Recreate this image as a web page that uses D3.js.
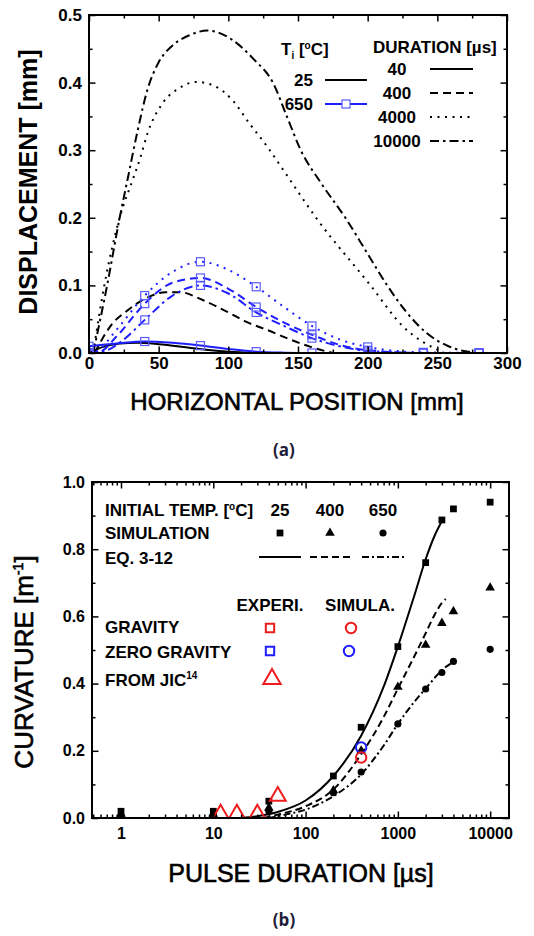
<!DOCTYPE html>
<html>
<head>
<meta charset="utf-8">
<script src="https://cdn.jsdelivr.net/npm/d3@7"></script>
<style>
  body { margin: 0; background: #fff; }
  text { font-family: "Liberation Sans", Arial, sans-serif; }
</style>
</head>
<body>
<script>
// ---------- (a) displacement vs horizontal position ----------
// black = Ti 25 C, blue = Ti 650 C ; [position mm, displacement mm]
const black40 = [[0,0],[10,0.009],[22,0.014],[35,0.015],[50,0.013],[75,0.007],[100,0.002],[125,0]];
const black400 = [[4,0],[17,0.044],[27,0.062],[40,0.08],[55,0.09],[65,0.09],[82,0.078],[101,0.059],[113,0.046],[128,0.034],[142,0.022],[159,0.009],[175,0]];
const black4000 = [[3,0],[11,0.1],[22,0.2],[32,0.26],[37,0.29],[42,0.325],[53,0.37],[65,0.392],[77,0.401],[90,0.395],[103,0.374],[115,0.34],[128,0.305],[141,0.266],[163,0.2],[202,0.1],[225,0.04],[255,0]];
const black10000 = [[3,0],[13,0.1],[22,0.2],[28,0.26],[35,0.33],[42,0.39],[50,0.43],[60,0.455],[72,0.47],[85,0.477],[103,0.463],[118,0.435],[132,0.4],[142,0.35],[152,0.3],[167,0.25],[184,0.2],[199,0.15],[214,0.1],[228,0.06],[242,0.03],[258,0.01],[278,0]];
const blue40 = [[0,0.01],[20,0.014],[40,0.017],[60,0.015],[80,0.011],[100,0.006],[120,0.002],[140,0.0005],[160,0],[200,0],[240,0],[280,0]];
const blue400 = [[0,0],[8,0.002],[20,0.025],[40,0.073],[60,0.104],[80,0.111],[100,0.095],[120,0.068],[140,0.045],[160,0.027],[180,0.012],[200,0.004],[240,0],[280,0]];
const blue4000 = [[0,0],[5,0.002],[20,0.035],[40,0.085],[60,0.12],[80,0.135],[100,0.123],[120,0.098],[140,0.068],[160,0.04],[180,0.02],[200,0.009],[220,0.003],[240,0.001],[280,0]];
const blue10000 = [[0,0],[10,0.002],[25,0.02],[40,0.049],[60,0.085],[80,0.1],[100,0.088],[120,0.06],[140,0.04],[160,0.022],[180,0.01],[200,0.003],[240,0],[280,0]];
const durationLabels = ["40", "400", "4000", "10000"];
const tempLabelsA = ["25", "650"];
const xTicksA = [0, 50, 100, 150, 200, 250, 300];
const xMinorA = [25, 75, 125, 175, 225, 275];
const yTicksA = [0, 0.1, 0.2, 0.3, 0.4, 0.5];
const yMinorA = [0.05, 0.15, 0.25, 0.35, 0.45];

// ---------- (b) curvature vs pulse duration ----------
const simDur = [1, 10, 40, 200, 400, 1000, 2000, 3000, 4000, 10000];
const sim25 = [0.02, 0.02, 0.05, 0.125, 0.27, 0.51, 0.76, 0.887, 0.92, 0.94];
const sim400 = [0.012, 0.012, 0.03, 0.082, 0.2, 0.39, 0.515, 0.58, 0.615, 0.685];
const sim650 = [0.006, 0.006, 0.02, 0.075, 0.137, 0.28, 0.384, 0.433, 0.466, 0.502];
const eq25Dur = [20, 30, 50, 100, 200, 400, 700, 1000, 1500, 2000, 2500, 3000];
const eq25 = [0.0, 0.005, 0.018, 0.052, 0.125, 0.245, 0.39, 0.51, 0.66, 0.77, 0.84, 0.883];
const eq400Dur = [35, 50, 100, 200, 400, 700, 1000, 1500, 2000, 2500, 3000, 3300];
const eq400 = [0.0, 0.01, 0.035, 0.085, 0.19, 0.3, 0.385, 0.48, 0.55, 0.605, 0.64, 0.652];
const eq650Dur = [40, 60, 100, 200, 400, 700, 1000, 1500, 2000, 3000, 4000];
const eq650 = [0.0, 0.01, 0.025, 0.065, 0.13, 0.215, 0.28, 0.345, 0.385, 0.44, 0.465];
const gravSimDur = [400], gravSim = [0.18];
const zeroSimDur = [400], zeroSim = [0.21];
const jicDur = [12, 18, 30, 50], jicCurv = [0.012, 0.012, 0.012, 0.065];
const initTemps = ["25", "400", "650"];
const xTicksB = [1, 10, 100, 1000, 10000];
const yTicksB = [0, 0.2, 0.4, 0.6, 0.8, 1.0];
const yMinorB = [0.1, 0.3, 0.5, 0.7, 0.9];

const BLUE = "#1e1eff", RED = "#ee1c1c", SQBLUE = "#5a5aff";

const svg = d3.select("body").append("svg").attr("width", 534).attr("height", 936);

function axisFrame(x, y, o) {
  const [xl, xr] = x.range(), [yb, yt] = y.range();
  const g = svg.append("g");
  const sides = [
    { ax: d3.axisBottom, sc: x, tr: `translate(0,${yb})`, lab: true, maj: o.xMajor, min: o.xMinor, fmt: o.xFmt, pad: o.xPad },
    { ax: d3.axisTop, sc: x, tr: `translate(0,${yt})`, lab: false, maj: o.xMajor, min: o.xMinor },
    { ax: d3.axisLeft, sc: y, tr: `translate(${xl},0)`, lab: true, maj: o.yMajor, min: o.yMinor, fmt: o.yFmt, pad: o.yPad },
    { ax: d3.axisRight, sc: y, tr: `translate(${xr},0)`, lab: false, maj: o.yMajor, min: o.yMinor }
  ];
  sides.forEach(s => {
    const a = g.append("g").attr("transform", s.tr)
      .call(s.ax(s.sc).tickValues(s.maj).tickSize(-6.5).tickPadding(s.pad || 0).tickFormat(s.lab ? s.fmt : ""));
    const b = g.append("g").attr("transform", s.tr)
      .call(s.ax(s.sc).tickValues(s.min).tickSize(-3.5).tickFormat(""));
    [a, b].forEach(k => {
      k.select(".domain").remove();
      k.attr("font-family", null).attr("font-size", null);
      k.selectAll(".tick line").attr("stroke-width", 1.5);
    });
    a.selectAll("text").attr("font-size", s.sc === x ? o.xFs : o.yFs).attr("font-weight", "bold").attr("fill", "#000");
  });
  g.append("rect").attr("x", xl).attr("y", yt).attr("width", xr - xl).attr("height", yb - yt)
    .attr("fill", "none").attr("stroke", "#000").attr("stroke-width", 2);
}

function clip(id, x, y) {
  svg.append("clipPath").attr("id", id).append("rect")
    .attr("x", x.range()[0]).attr("y", y.range()[1])
    .attr("width", x.range()[1] - x.range()[0]).attr("height", y.range()[0] - y.range()[1]);
}

// heavier axis titles
function title(t) { return t.attr("stroke", "#000").attr("stroke-width", 0.6); }

// ================= chart (a) =================
const xA = d3.scaleLinear().domain([0, 300]).range([89, 507]);
const yA = d3.scaleLinear().domain([0, 0.5]).range([353, 15]);
clip("clipA", xA, yA);

const dashA = { solid: null, dash: "8,5", dot: "2,5.5", dashdot: "9,4,2.5,4" };
const seriesA = [
  { pts: black40, c: "#000", d: dashA.solid },
  { pts: black400, c: "#000", d: dashA.dash },
  { pts: black4000, c: "#000", d: dashA.dot },
  { pts: black10000, c: "#000", d: dashA.dashdot },
  { pts: blue40, c: BLUE, d: dashA.solid, sq: true },
  { pts: blue400, c: BLUE, d: dashA.dash, sq: true },
  { pts: blue4000, c: BLUE, d: dashA.dot, sq: true },
  { pts: blue10000, c: BLUE, d: dashA.dashdot, sq: true }
];
const lineA = d3.line().x(d => xA(d[0])).y(d => yA(d[1])).curve(d3.curveMonotoneX);
const gA = svg.append("g").attr("clip-path", "url(#clipA)");
seriesA.forEach(s => {
  gA.append("path").attr("d", lineA(s.pts)).attr("fill", "none")
    .attr("stroke", s.c).attr("stroke-width", 2).attr("stroke-dasharray", s.d);
});
seriesA.filter(s => s.sq).forEach(s => {
  gA.selectAll(null).data(s.pts.filter(p => p[0] % 40 === 0)).join("rect")
    .attr("x", d => xA(d[0]) - 4).attr("y", d => yA(d[1]) - 4)
    .attr("width", 8).attr("height", 8)
    .attr("fill", "none").attr("stroke", SQBLUE).attr("stroke-width", 1.2);
});

axisFrame(xA, yA, {
  xMajor: xTicksA, xMinor: xMinorA, xFmt: d3.format("d"), xPad: 4, xFs: 17,
  yMajor: yTicksA, yMinor: yMinorA, yFmt: d3.format(".1f"), yPad: 7, yFs: 17
});

// legend (a)
const legA = svg.append("g").attr("font-size", 17).attr("font-weight", "bold");
const ti = legA.append("text").attr("x", 281).attr("y", 55);
ti.append("tspan").text("T");
ti.append("tspan").attr("font-size", 10).attr("dy", 4).text("i");
ti.append("tspan").attr("dy", -4).text(" [");
ti.append("tspan").attr("font-size", 10).attr("dy", -6).text("o");
ti.append("tspan").attr("dy", 6).text("C]");
legA.selectAll(null).data(tempLabelsA).join("text")
  .attr("x", 313).attr("y", (d, i) => 86 + i * 24).attr("text-anchor", "end").text(d => d);
legA.append("line").attr("x1", 325).attr("x2", 367).attr("y1", 80).attr("y2", 80).attr("stroke", "#000").attr("stroke-width", 2);
legA.append("line").attr("x1", 325).attr("x2", 367).attr("y1", 104).attr("y2", 104).attr("stroke", BLUE).attr("stroke-width", 2);
legA.append("rect").attr("x", 342).attr("y", 100).attr("width", 8).attr("height", 8)
  .attr("fill", "#fff").attr("stroke", SQBLUE).attr("stroke-width", 1.2);
legA.append("text").attr("x", 373).attr("y", 53).text("DURATION [\u00b5s]");
const durDash = [dashA.solid, dashA.dash, dashA.dot, dashA.dashdot];
durationLabels.forEach((lab, i) => {
  const yy = 69 + i * 24;
  legA.append("text").attr("x", 397).attr("y", yy + 6).attr("text-anchor", "middle").text(lab);
  legA.append("line").attr("x1", 430).attr("x2", 473).attr("y1", yy).attr("y2", yy)
    .attr("stroke", "#000").attr("stroke-width", 2).attr("stroke-dasharray", durDash[i]);
});

title(svg.append("text").attr("x", 297).attr("y", 410).attr("text-anchor", "middle")
  .attr("font-size", 24).text("HORIZONTAL POSITION [mm]"));
svg.append("text").attr("transform", "translate(37,182) rotate(-90)").attr("text-anchor", "middle")
  .attr("font-size", 25).attr("font-weight", "bold").text("DISPLACEMENT [mm]");
svg.append("text").attr("x", 284).attr("y", 456).attr("text-anchor", "middle")
  .attr("font-size", 17).attr("font-weight", "bold").attr("fill", "#1d1d3a")
  .style("font-family", "'Open Sans', sans-serif").text("(a)");

// ================= chart (b) =================
const xB = d3.scaleLog().domain([0.485, 16000]).range([92, 509]);
const yB = d3.scaleLinear().domain([0, 1]).range([818, 482]);
clip("clipB", xB, yB);
const gB = svg.append("g").attr("clip-path", "url(#clipB)");

const lineB = d3.line().x(d => xB(d[0])).y(d => yB(d[1])).curve(d3.curveMonotoneX);
const eqSeries = [
  { x: eq25Dur, y: eq25, d: null },
  { x: eq400Dur, y: eq400, d: "7,4" },
  { x: eq650Dur, y: eq650, d: "7,3,2,3" }
];
eqSeries.forEach(s => {
  gB.append("path").attr("d", lineB(d3.zip(s.x, s.y))).attr("fill", "none")
    .attr("stroke", "#000").attr("stroke-width", 2).attr("stroke-dasharray", s.d);
});

const sym = (type, size) => d3.symbol().type(type).size(size)();
function markers(g, xs, ys, type, size, fill, stroke, sw) {
  g.selectAll(null).data(d3.zip(xs, ys)).join("path")
    .attr("transform", d => `translate(${xB(d[0])},${yB(d[1])})`)
    .attr("d", sym(type, size))
    .attr("fill", fill).attr("stroke", stroke).attr("stroke-width", sw);
}
markers(gB, simDur, sim25, d3.symbolSquare, 46, "#000", "none", 0);
markers(gB, simDur, sim400, d3.symbolTriangle, 40, "#000", "none", 0);
markers(gB, simDur, sim650, d3.symbolCircle, 40, "#000", "none", 0);
markers(gB, zeroSimDur, zeroSim, d3.symbolCircle, 85, "none", BLUE, 2);
markers(gB, gravSimDur, gravSim, d3.symbolCircle, 85, "none", RED, 2);
markers(gB, jicDur, jicCurv, d3.symbolTriangle, 110, "none", RED, 2);

axisFrame(xB, yB, {
  xMajor: xTicksB, xMinor: xB.ticks().filter(t => !xTicksB.includes(t)), xFmt: d3.format("d"), xPad: 10, xFs: 16,
  yMajor: yTicksB, yMinor: yMinorB, yFmt: d3.format(".1f"), yPad: 7, yFs: 16
});

// legend (b)
const legB = svg.append("g").attr("font-size", 17).attr("font-weight", "bold");
const it = legB.append("text").attr("x", 105).attr("y", 516);
it.append("tspan").text("INITIAL TEMP. [");
it.append("tspan").attr("font-size", 10).attr("dy", -6).text("o");
it.append("tspan").attr("dy", 6).text("C]");
const colB = [280, 330, 383];
legB.selectAll(null).data(initTemps).join("text")
  .attr("x", (d, i) => colB[i]).attr("y", 516).attr("text-anchor", "middle").text(d => d);
legB.append("text").attr("x", 105).attr("y", 539).text("SIMULATION");
[d3.symbolSquare, d3.symbolTriangle, d3.symbolCircle].forEach((t, i) => {
  legB.append("path").attr("transform", `translate(${colB[i]},533)`).attr("d", sym(t, i === 0 ? 46 : 40)).attr("fill", "#000");
});
legB.append("text").attr("x", 105).attr("y", 564).text("EQ. 3-12");
[[259, 301, null], [310, 350, "7,4"], [362, 404, "7,3,2,3"]].forEach(l => {
  legB.append("line").attr("x1", l[0]).attr("x2", l[1]).attr("y1", 557).attr("y2", 557)
    .attr("stroke", "#000").attr("stroke-width", 2).attr("stroke-dasharray", l[2]);
});
legB.append("text").attr("x", 270).attr("y", 611).attr("text-anchor", "middle").text("EXPERI.");
legB.append("text").attr("x", 360).attr("y", 611).attr("text-anchor", "middle").text("SIMULA.");
legB.append("text").attr("x", 105).attr("y", 633).text("GRAVITY");
legB.append("text").attr("x", 105).attr("y", 658).text("ZERO GRAVITY");
const jic = legB.append("text").attr("x", 105).attr("y", 686);
jic.append("tspan").text("FROM JIC");
jic.append("tspan").attr("font-size", 10).attr("dy", -7).text("14");
const legMark = (x, y, t, size, c) => legB.append("path").attr("transform", `translate(${x},${y})`)
  .attr("d", sym(t, size)).attr("fill", "none").attr("stroke", c).attr("stroke-width", 2);
legMark(270, 628, d3.symbolSquare, 70, RED);
legMark(351, 628, d3.symbolCircle, 85, RED);
legMark(270, 651, d3.symbolSquare, 70, BLUE);
legMark(349, 651, d3.symbolCircle, 85, BLUE);
legMark(272, 679, d3.symbolTriangle, 130, RED);

title(svg.append("text").attr("x", 301).attr("y", 882).attr("text-anchor", "middle")
  .attr("font-size", 25).text("PULSE DURATION [\u00b5s]"));
const cv = title(svg.append("text").attr("transform", "translate(33,662) rotate(-90)").attr("text-anchor", "middle")
  .attr("font-size", 26));
cv.append("tspan").text("CURVATURE [m");
cv.append("tspan").attr("font-size", 14).attr("dy", -10).text("-1");
cv.append("tspan").attr("dy", 10).text("]");
svg.append("text").attr("x", 284).attr("y", 926).attr("text-anchor", "middle")
  .attr("font-size", 17).attr("font-weight", "bold").attr("fill", "#1d1d3a")
  .style("font-family", "'Open Sans', sans-serif").text("(b)");
</script>
</body>
</html>
